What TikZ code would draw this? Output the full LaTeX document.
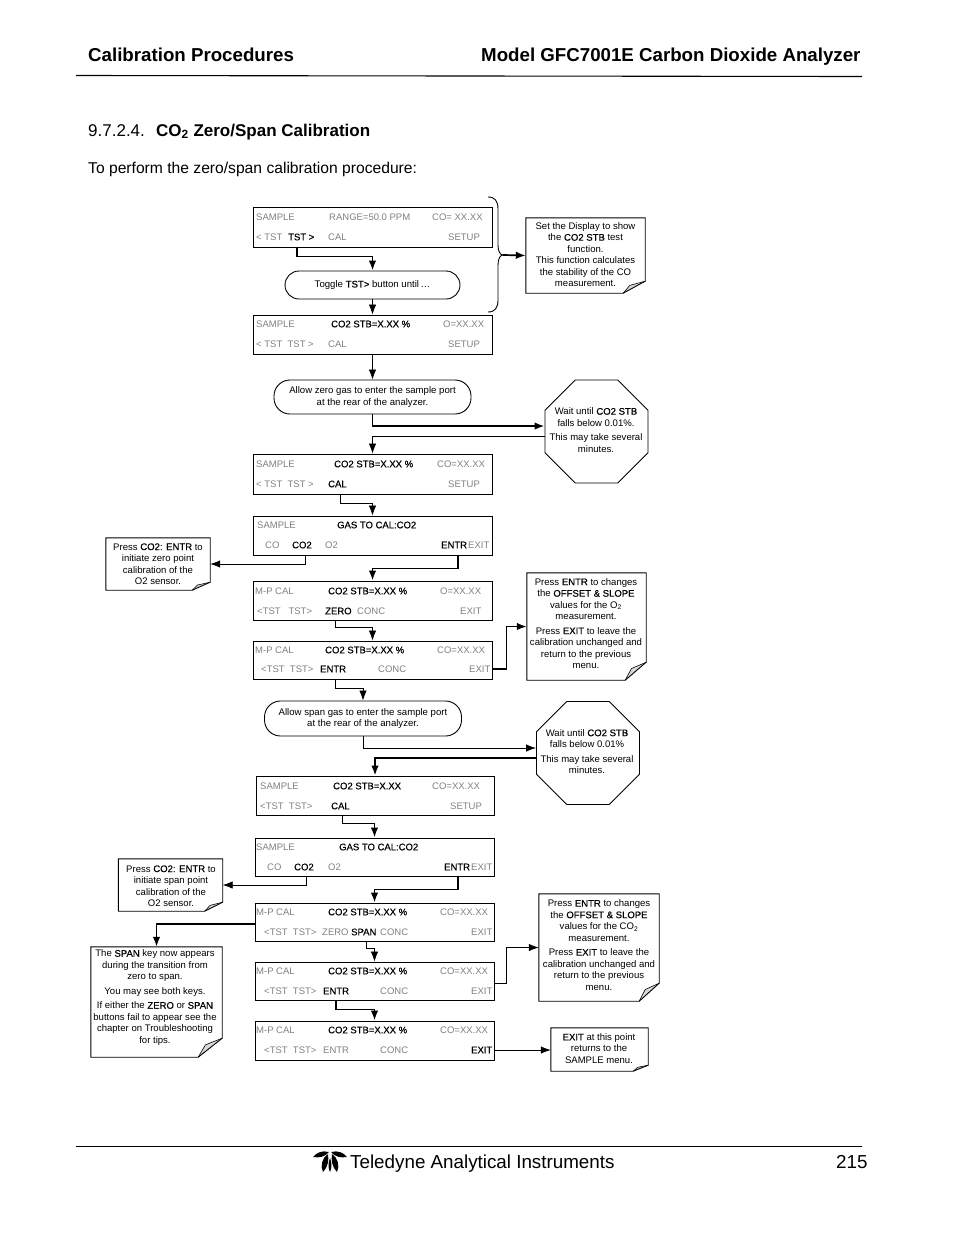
\documentclass[tikz,border=0pt]{standalone}
\usepackage{fontspec}
\setmainfont{Liberation Sans}
\newfontfamily\hotfont{Liberation Sans}[FakeBold=0.5]
\newcommand{\hot}[1]{{\hotfont #1}}
\usetikzlibrary{shapes,arrows.meta,calc,positioning}
\definecolor{dimgray}{HTML}{808080}
\tikzset{
	flow/.style = {-{Latex[length=10pt,width=7.5pt]},line width=0.8pt},
	flowb/.style = {flow,line width=1.7pt},
	lcd/.style = {rectangle, draw, line width=0.9pt, minimum width=239pt, minimum height=39pt, inner sep=0pt},
	dim/.style = {anchor=west, inner sep=0pt, text=dimgray, font=\fontsize{9.5}{11}\selectfont},
	key/.style = {anchor=west, inner sep=0pt, text=black, font=\fontsize{9.5}{11}\selectfont\hotfont},
	pill/.style = {rectangle, draw, rounded corners=14pt, line width=0.9pt, align=center, inner sep=0pt, font=\fontsize{9.6}{11.5}\selectfont},
	octa/.style = {regular polygon, regular polygon sides=8, draw, line width=0.9pt, inner sep=0pt, minimum size=111.5pt},
	note/.style = {rectangle, inner sep=0pt},
	notetext/.style = {align=center, inner sep=0pt, font=\fontsize{9.55}{11.5}\selectfont},
	head/.style = {anchor=base west, inner sep=0pt}
}
\begin{document}
\begin{tikzpicture}[x=1pt,y=-1pt]
    \useasboundingbox (0,0) rectangle (954,1235);

    % page head and foot
    \node[head, font=\fontsize{18.7}{20}\selectfont\bfseries] (title) at (88,61) {Calibration Procedures};
    \node[head, font=\fontsize{18.7}{20}\selectfont\bfseries] (model) at (481,61) {Model GFC7001E Carbon Dioxide Analyzer};
    \draw[line width=1.1pt] (76,75.5) -- (862,76.5);
    \node[head, font=\fontsize{17}{19}\selectfont] (secno) at (88,136) {9.7.2.4.};
    \node[head, font=\fontsize{17}{19}\selectfont\bfseries] (sec) at (156,136) {CO\textsubscript{2} Zero/Span Calibration};
    \node[head, font=\fontsize{15.65}{18}\selectfont] (intro) at (88,173) {To perform the zero/span calibration procedure:};
    \draw[line width=0.9pt] (76,1146) -- (862,1146);
    \node[head, font=\fontsize{18.8}{22}\selectfont] (maker) at (350,1168) {Teledyne Analytical Instruments};
    \node[head, font=\fontsize{18.8}{22}\selectfont] (page) at (836,1168) {215};
    % logo
    \fill (329,1152) .. controls (322,1150) and (316,1153) .. (313,1157) .. controls (319,1158) and (325,1157) .. (329,1152);
    \fill (331,1152) .. controls (338,1150) and (344,1153) .. (347,1157) .. controls (341,1158) and (335,1157) .. (331,1152);
    \fill (328,1154) .. controls (322,1158) and (320,1166) .. (323,1172) .. controls (328,1167) and (329,1160) .. (328,1154);
    \fill (332,1154) .. controls (338,1158) and (340,1166) .. (337,1172) .. controls (332,1167) and (331,1160) .. (332,1154);
    \fill (330,1158) .. controls (328,1163) and (328,1168) .. (330,1172) .. controls (332,1168) and (332,1163) .. (330,1158);

    % displays
    \node[lcd, minimum height=40pt] (d1) at (372.5,227) {};
    \node[dim] (d1a) at (256,217) {SAMPLE};
    \node[dim] (d1b) at (329,217) {RANGE=50.0 PPM};
    \node[dim] (d1c) at (432,217) {CO= XX.XX};
    \node[dim] (d1d) at (256,237) {< TST};
    \node[key] (d1e) at (288,237) {TST >};
    \node[dim] (d1f) at (328,237) {CAL};
    \node[dim] (d1g) at (448,237) {SETUP};

    \node[lcd] (d2) at (372.5,334.5) {};
    \node[dim] (d2a) at (256,324) {SAMPLE};
    \node[key] (d2b) at (331,324) {CO2 STB=X.XX \%};
    \node[dim] (d2c) at (443,324) {O=XX.XX};
    \node[dim] (d2d) at (256,344) {< TST\ \ TST >};
    \node[dim] (d2f) at (328,344) {CAL};
    \node[dim] (d2g) at (448,344) {SETUP};

    \node[lcd, minimum height=40pt] (d3) at (372.5,474) {};
    \node[dim] (d3a) at (256,464) {SAMPLE};
    \node[key] (d3b) at (334,464) {CO2 STB=X.XX \%};
    \node[dim] (d3c) at (437,464) {CO=XX.XX};
    \node[dim] (d3d) at (256,484) {< TST\ \ TST >};
    \node[key] (d3f) at (328,484) {CAL};
    \node[dim] (d3g) at (448,484) {SETUP};

    \node[lcd] (d4) at (372.5,535.5) {};
    \node[dim] (d4a) at (257,525) {SAMPLE};
    \node[key] (d4b) at (337,525) {GAS TO CAL:CO2};
    \node[dim] (d4c) at (265,545) {CO};
    \node[key] (d4d) at (292,545) {CO2};
    \node[dim] (d4e) at (325,545) {O2};
    \node[key] (d4f) at (441,545) {ENTR};
    \node[dim] (d4g) at (468,545) {EXIT};

    \node[lcd] (d5) at (372.5,600.5) {};
    \node[dim] (d5a) at (255,591) {M-P CAL};
    \node[key] (d5b) at (328,591) {CO2 STB=X.XX \%};
    \node[dim] (d5c) at (440,591) {O=XX.XX};
    \node[dim] (d5d) at (257,611) {<TST\ \ \ TST>};
    \node[key] (d5e) at (325,611) {ZERO};
    \node[dim] (d5f) at (357,611) {CONC};
    \node[dim] (d5g) at (460,611) {EXIT};

    \node[lcd, minimum height=38pt] (d6) at (372.5,660) {};
    \node[dim] (d6a) at (255,650) {M-P CAL};
    \node[key] (d6b) at (325,650) {CO2 STB=X.XX \%};
    \node[dim] (d6c) at (437,650) {CO=XX.XX};
    \node[dim] (d6d) at (261,669) {<TST\ \ TST>};
    \node[key] (d6e) at (320,669) {ENTR};
    \node[dim] (d6f) at (378,669) {CONC};
    \node[dim] (d6g) at (469,669) {EXIT};

    \node[lcd, minimum width=238pt] (d7) at (375,795.5) {};
    \node[dim] (d7a) at (260,786) {SAMPLE};
    \node[key] (d7b) at (333,786) {CO2 STB=X.XX};
    \node[dim] (d7c) at (432,786) {CO=XX.XX};
    \node[dim] (d7d) at (260,806) {<TST\ \ TST>};
    \node[key] (d7f) at (331,806) {CAL};
    \node[dim] (d7g) at (450,806) {SETUP};

    \node[lcd, minimum height=38pt] (d8) at (374.5,857) {};
    \node[dim] (d8a) at (256,847) {SAMPLE};
    \node[key] (d8b) at (339,847) {GAS TO CAL:CO2};
    \node[dim] (d8c) at (267,867) {CO};
    \node[key] (d8d) at (294,867) {CO2};
    \node[dim] (d8e) at (328,867) {O2};
    \node[key] (d8f) at (444,867) {ENTR};
    \node[dim] (d8g) at (471,867) {EXIT};

    \node[lcd, minimum height=38pt] (d9) at (374.5,922) {};
    \node[dim] (d9a) at (256,912) {M-P CAL};
    \node[key] (d9b) at (328,912) {CO2 STB=X.XX \%};
    \node[dim] (d9c) at (440,912) {CO=XX.XX};
    \node[dim] (d9d) at (264,932) {<TST\ \ TST>};
    \node[dim] (d9e) at (322,932) {ZERO};
    \node[key] (d9f) at (351,932) {SPAN};
    \node[dim] (d9g) at (380,932) {CONC};
    \node[dim] (d9h) at (471,932) {EXIT};

    \node[lcd, minimum height=38pt] (d10) at (374.5,981) {};
    \node[dim] (d10a) at (256,971) {M-P CAL};
    \node[key] (d10b) at (328,971) {CO2 STB=X.XX \%};
    \node[dim] (d10c) at (440,971) {CO=XX.XX};
    \node[dim] (d10d) at (264,991) {<TST\ \ TST>};
    \node[key] (d10e) at (323,991) {ENTR};
    \node[dim] (d10f) at (380,991) {CONC};
    \node[dim] (d10g) at (471,991) {EXIT};

    \node[lcd] (d11) at (374.5,1040.5) {};
    \node[dim] (d11a) at (256,1030) {M-P CAL};
    \node[key] (d11b) at (328,1030) {CO2 STB=X.XX \%};
    \node[dim] (d11c) at (440,1030) {CO=XX.XX};
    \node[dim] (d11d) at (264,1050) {<TST\ \ TST>};
    \node[dim] (d11e) at (323,1050) {ENTR};
    \node[dim] (d11f) at (380,1050) {CONC};
    \node[key] (d11g) at (471,1050) {EXIT};

    % pills
    \node[pill, minimum width=175pt, minimum height=28pt] (p1) at (372.5,285) {Toggle \hot{TST>} button until\,\dots};
    \node[pill, minimum width=197pt, minimum height=34pt, rounded corners=16pt] (p2) at (372.5,397) {Allow zero gas to enter the sample port\\at the rear of the analyzer.};
    \node[pill, minimum width=197pt, minimum height=35pt, rounded corners=16pt] (p3) at (363,718.5) {Allow span gas to enter the sample port\\at the rear of the analyzer.};

    % octagons
    \node[octa] (o1) at (596.5,431.5) {};
    \node[notetext] (o1t) at (596,430) {Wait until \hot{CO2 STB}\\falls below 0.01\%.\\[3pt]This may take several\\minutes.};
    \node[octa] (o2) at (588,753) {};
    \node[notetext] (o2t) at (587,751.5) {Wait until \hot{CO2 STB}\\falls below 0.01\%\\[3pt]This may take several\\minutes.};

    % notes
    \node[note, minimum width=119pt, minimum height=75pt] (n1) at (585.5,255.5) {};
    \node[notetext] (n1t) at (585.5,254.5) {Set the Display to show\\the \hot{CO2 STB} test\\function.\\This function calculates\\the stability of the CO\\measurement.};
    \node[note, minimum width=104pt, minimum height=52pt] (n2) at (158,564) {};
    \node[notetext] (n2t) at (158,564) {Press \hot{CO2: ENTR} to\\initiate zero point\\calibration of the\\O2 sensor.};
    \node[note, minimum width=119pt, minimum height=107pt] (n3) at (586.5,626.5) {};
    \node[notetext] (n3t) at (586,623.5) {Press \hot{ENTR} to changes\\the \hot{OFFSET \& SLOPE}\\values for the O\textsubscript{2}\\measurement.\\[3pt]Press \hot{EXIT} to leave the\\calibration unchanged and\\return to the previous\\menu.};
    \node[note, minimum width=104pt, minimum height=52pt] (n4) at (170.5,885) {};
    \node[notetext] (n4t) at (171,886) {Press \hot{CO2: ENTR} to\\initiate span point\\calibration of the\\O2 sensor.};
    \node[note, minimum width=131pt, minimum height=110pt] (n5) at (156.5,1002) {};
    \node[notetext] (n5t) at (155,997.5) {The \hot{SPAN} key now appears\\during the transition from\\zero to span.\\[3pt]You may see both keys.\\[3pt]If either the \hot{ZERO} or \hot{SPAN}\\buttons fail to appear see the\\chapter on Troubleshooting\\for tips.};
    \node[note, minimum width=120pt, minimum height=107pt] (n6) at (599,947.5) {};
    \node[notetext] (n6t) at (599,945) {Press \hot{ENTR} to changes\\the \hot{OFFSET \& SLOPE}\\values for the CO\textsubscript{2}\\measurement.\\[3pt]Press \hot{EXIT} to leave the\\calibration unchanged and\\return to the previous\\menu.};
    \node[note, minimum width=97pt, minimum height=43pt] (n7) at (599.5,1049.5) {};
    \node[notetext] (n7t) at (599,1048.5) {\hot{EXIT} at this point\\returns to the\\SAMPLE menu.};

    \foreach \n/\fw/\fh in {n1/22/12, n2/18/8, n3/21/18, n4/18/9, n5/24/19, n6/20/18, n7/15/6} {
        \fill[black!15] ($(\n.south east)+(0,-\fh)$) -- ($(\n.south east)+(-\fw,0)$) -- ($(\n.south east)+(-0.7*\fw,-0.65*\fh)$) -- cycle;
        \draw[line width=0.9pt] (\n.north west) -- (\n.north east) -- ($(\n.south east)+(0,-\fh)$) -- ($(\n.south east)+(-\fw,0)$) -- (\n.south west) -- cycle;
        \draw[line width=0.6pt] ($(\n.south east)+(0,-\fh)$) -- ($(\n.south east)+(-0.7*\fw,-0.65*\fh)$) -- ($(\n.south east)+(-\fw,0)$);
    }

    % brace beside the first two displays
    \coordinate (brtip) at (503,255);
    \draw[line width=0.9pt] (488,197) .. controls (495,197) and (498,201) .. (498,209) -- (498,245) .. controls (498,251) and (500,255) .. (brtip)
        .. controls (500,255) and (498,259) .. (498,265) -- (498,300) .. controls (498,308) and (495,312) .. (488,312);
    \draw[flowb] (brtip) -- (n1.west);

    % connectors
    \draw[flowb] ([xshift=-4pt]d1e |- d1.south) -- ++(0,9) -| (p1.north);
    \draw[flow] (p1.south) -- (d2.north);
    \draw[flow] (d2.south) -- (p2.north);
    \draw[flowb] (p2.south) |- (o1.west |- 0,426);
    \draw[flow] (o1.west |- 0,436) -| (d3.north);
    \draw[flow] ([xshift=3pt]d3f |- d3.south) -- ++(0,9) -| (d4.north);
    \draw[flow] ([xshift=3pt]d4d |- d4.south) |- (n2.east);
    \draw[flowb] ([xshift=4pt]d4f |- d4.south) -- ++(0,13) -| (d5.north);
    \draw[flow] ([xshift=-3pt]d5e |- d5.south) -- ++(0,7) -| (d6.north);
    \draw[flowb] (d6.east |- d6g) -- ++(14,0) |- (n3.west);
    \draw[flow] ([xshift=2pt]d6e |- d6.south) -- ++(0,9) -| (p3.north);
    \draw[flow] (p3.south) |- (o2.west |- 0,748);
    \draw[flowb] (o2.west |- 0,758) -| (d7.north);
    \draw[flowb] ([xshift=2pt]d7f |- d7.south) -- ++(0,8) -| (d8.north);
    \draw[flow] ([xshift=2pt]d8d |- d8.south) |- (n4.east);
    \draw[flowb] ([xshift=1pt]d8f |- d8.south) -- ++(0,13) -| (d9.north);
    \draw[flowb] (d9.west |- 0,924) -| (n5.north);
    \draw[flow] ([xshift=3pt]d9f |- d9.south) -- ++(0,7) -| (d10.north);
    \draw[flow] (d10.east |- 0,983) -- ++(12,0) |- (n6.west);
    \draw[flowb] (d10e |- d10.south) -- ++(0,9) -| (d11.north);
    \draw[flow] (d11.east |- d11g) -- (n7.west |- d11g);
\end{tikzpicture}
\end{document}
